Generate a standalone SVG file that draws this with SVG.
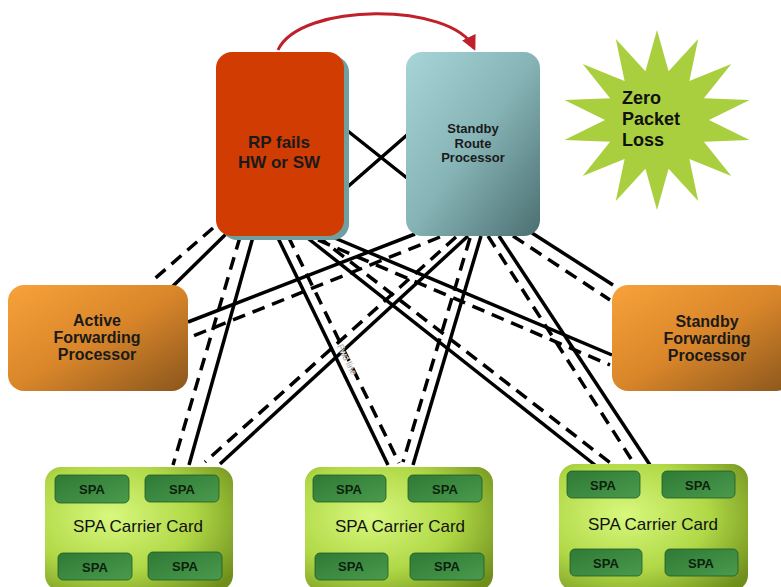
<svg xmlns="http://www.w3.org/2000/svg" width="781" height="587" viewBox="0 0 781 587">
<style>
.s{stroke:#000;stroke-width:3.5;fill:none}
.d{stroke:#000;stroke-width:3.5;fill:none;stroke-dasharray:13 8}
.t{font-family:"Liberation Sans",Arial,sans-serif;font-weight:bold;fill:#1a1a1a;text-anchor:middle}
.spa{fill:url(#gSpa);stroke:#1f5a24;stroke-width:0.8}
.st{font-family:"Liberation Sans",Arial,sans-serif;font-weight:bold;font-size:13px;fill:#0d1f0d;text-anchor:middle}
.ct{font-family:"Liberation Sans",Arial,sans-serif;font-size:17px;fill:#111;text-anchor:middle}
</style>
<defs>
<linearGradient id="gSrp" x1="0" y1="0" x2="1" y2="1"><stop offset="0" stop-color="#a8d6d8"/><stop offset="0.5" stop-color="#86b3b5"/><stop offset="1" stop-color="#4b6f71"/></linearGradient>
<linearGradient id="gFp" x1="0" y1="0" x2="1" y2="1"><stop offset="0" stop-color="#f7a23a"/><stop offset="0.5" stop-color="#d9862a"/><stop offset="1" stop-color="#8a561c"/></linearGradient>
<radialGradient id="gCard" cx="0.35" cy="0.4" r="0.8"><stop offset="0" stop-color="#d8f87e"/><stop offset="0.55" stop-color="#b0d846"/><stop offset="1" stop-color="#6f8e1c"/></radialGradient>
<linearGradient id="gSpa" x1="0" y1="0" x2="1" y2="1"><stop offset="0" stop-color="#2f7a36"/><stop offset="1" stop-color="#4a9a4c"/></linearGradient>
<marker id="arr" viewBox="0 0 10 10" refX="8" refY="5" markerWidth="5" markerHeight="5" orient="auto"><path d="M0,0 L10,5 L0,10 z" fill="#c0202a"/></marker>
</defs>
<rect width="781" height="587" fill="#fff"/>
<g id="connectors">
<path class="s" d="M344,128 L407,178 M344,190 L407,135"/>
<path d="M278,50 C300,2 452,2 474,48" fill="none" stroke="#c0202a" stroke-width="3" marker-end="url(#arr)"/>
<path class="d" d="M213,228 L152,281"/>
<path class="s" d="M226,234 L171,288"/>
<path class="d" d="M240,237 L173,465"/>
<path class="s" d="M253,237 L189,465"/>
<path class="s" d="M277,236 L388,465"/>
<path class="d" d="M288,236 L399,463"/>
<path class="s" d="M305,236 L595,465"/>
<path class="d" d="M317,236 L613,465"/>
<path class="s" d="M330,236 L612,355"/>
<path class="d" d="M318,240 L610,365"/>
<path class="s" d="M415,234 L188,322"/>
<path class="d" d="M440,237 L188,338"/>
<path class="d" d="M456,237 L205,462"/>
<path class="s" d="M468,236 L220,464"/>
<path class="d" d="M470,238 L403,462"/>
<path class="s" d="M481,236 L413,465"/>
<path class="d" d="M488,236 L633,462"/>
<path class="s" d="M499,236 L650,465"/>
<path class="d" d="M513,236 L610,300"/>
<path class="s" d="M532,233 L613,285"/>
<text x="0" y="0" transform="translate(337,346) rotate(64)" font-family="Liberation Sans,Arial,sans-serif" font-size="9" fill="#000" stroke="#fff" stroke-width="0.4">Fwd line</text>
</g>
<g id="rp">
<rect x="221" y="56" width="128" height="184" rx="16" fill="#6f9fa0"/>
<rect x="216" y="52" width="128" height="184" rx="16" fill="#d03c02"/>
<text class="t" font-size="17"><tspan x="279" y="148">RP fails</tspan><tspan x="279" y="168">HW or SW</tspan></text>
</g>
<g id="srp">
<rect x="406" y="52" width="134" height="184" rx="16" fill="url(#gSrp)"/>
<text class="t" font-size="13"><tspan x="473" y="133">Standby</tspan><tspan x="473" y="148">Route</tspan><tspan x="473" y="162">Processor</tspan></text>
</g>
<g id="star">
<polygon points="657,30 668.6,71.3 698.2,38.9 689.4,80.9 731.3,63.9 703.9,98.3 749.6,100 709,120 749.6,140 703.9,141.7 731.3,176.1 689.4,159.1 698.2,201.1 668.6,168.7 657,210 645.4,168.7 615.8,201.1 624.6,159.1 582.7,176.1 610.1,141.7 564.4,140 605,120 564.4,100 610.1,98.3 582.7,63.9 624.6,80.9 615.8,38.9 645.4,71.3" fill="#aacf3e"/>
<text font-family="Liberation Sans,Arial,sans-serif" font-weight="bold" font-size="18" fill="#111"><tspan x="622" y="104">Zero</tspan><tspan x="622" y="125">Packet</tspan><tspan x="622" y="146">Loss</tspan></text>
</g>
<g id="afp">
<rect x="8" y="285" width="180" height="106" rx="16" fill="url(#gFp)"/>
<text class="t" font-size="16" fill="#2a1508"><tspan x="97" y="326">Active</tspan><tspan x="97" y="343">Forwarding</tspan><tspan x="97" y="360">Processor</tspan></text>
</g>
<g id="sfp">
<rect x="612" y="285" width="180" height="106" rx="16" fill="url(#gFp)"/>
<text class="t" font-size="16"><tspan x="707" y="327">Standby</tspan><tspan x="707" y="344">Forwarding</tspan><tspan x="707" y="361">Processor</tspan></text>
</g>
<g id="card1">
<rect x="45" y="467" width="188" height="124" rx="16" fill="url(#gCard)"/>
<rect class="spa" x="55" y="475" width="74" height="28" rx="5"/><text class="st" x="92" y="494">SPA</text>
<rect class="spa" x="145" y="475" width="74" height="27" rx="5"/><text class="st" x="182" y="494">SPA</text>
<text class="ct" x="138" y="532">SPA Carrier Card</text>
<rect class="spa" x="58" y="553" width="74" height="27" rx="5"/><text class="st" x="95" y="572">SPA</text>
<rect class="spa" x="148" y="552" width="74" height="28" rx="5"/><text class="st" x="185" y="571">SPA</text>
</g>
<g id="card2">
<rect x="305" y="467" width="188" height="124" rx="16" fill="url(#gCard)"/>
<rect class="spa" x="313" y="475" width="73" height="27" rx="5"/><text class="st" x="349" y="494">SPA</text>
<rect class="spa" x="408" y="475" width="74" height="27" rx="5"/><text class="st" x="445" y="494">SPA</text>
<text class="ct" x="400" y="532">SPA Carrier Card</text>
<rect class="spa" x="315" y="553" width="73" height="27" rx="5"/><text class="st" x="351" y="571">SPA</text>
<rect class="spa" x="410" y="553" width="74" height="27" rx="5"/><text class="st" x="447" y="571">SPA</text>
</g>
<g id="card3">
<rect x="559" y="464" width="189" height="127" rx="16" fill="url(#gCard)"/>
<rect class="spa" x="567" y="471" width="73" height="27" rx="5"/><text class="st" x="603" y="490">SPA</text>
<rect class="spa" x="662" y="471" width="73" height="27" rx="5"/><text class="st" x="698" y="490">SPA</text>
<text class="ct" x="653" y="530">SPA Carrier Card</text>
<rect class="spa" x="570" y="549" width="72" height="27" rx="5"/><text class="st" x="606" y="568">SPA</text>
<rect class="spa" x="665" y="549" width="73" height="27" rx="5"/><text class="st" x="701" y="568">SPA</text>
</g>
</svg>
